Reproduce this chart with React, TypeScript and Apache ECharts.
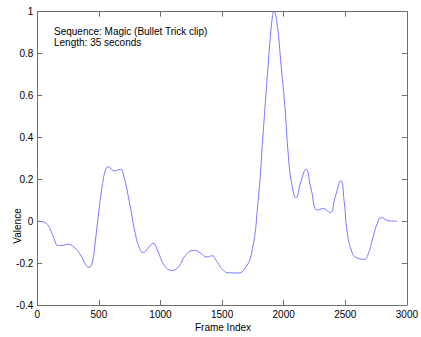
import React, { useEffect, useRef } from "react";
import * as echarts from "echarts";

const frameIndex = [
  0, 40, 80, 110, 140, 167, 200, 245, 300, 350, 390, 419, 445, 470, 500, 530, 555, 575, 625, 674, 700,
  747, 795, 830, 859, 900, 939, 980, 1030, 1095, 1150, 1200, 1270, 1320, 1377, 1417, 1460, 1510,
  1551, 1631, 1680, 1739, 1793, 1833, 1873, 1905, 1922, 1945, 1980, 2012, 2034, 2065, 2101, 2140,
  2182, 2220, 2276, 2322, 2375, 2420, 2464, 2490, 2517, 2557, 2584, 2652, 2690, 2719, 2760, 2793,
  2853, 2920,
];
const valence = [
  0, -0.002, -0.015, -0.045, -0.09, -0.116, -0.116, -0.11, -0.125, -0.16, -0.205, -0.22, -0.2, -0.1,
  0.05, 0.18, 0.245, 0.26, 0.24, 0.248, 0.22, 0.093, -0.058, -0.13, -0.149, -0.128, -0.106, -0.145,
  -0.21, -0.235, -0.215, -0.165, -0.139, -0.15, -0.171, -0.165, -0.195, -0.235, -0.246, -0.247,
  -0.23, -0.153, 0.101, 0.42, 0.737, 0.96, 1.0, 0.95, 0.737, 0.53, 0.34, 0.18, 0.112, 0.19, 0.248,
  0.16, 0.053, 0.06, 0.041, 0.12, 0.193, 0.1, -0.058, -0.153, -0.172, -0.182, -0.15, -0.09, -0.01,
  0.017, 0.002, 0.0,
];
const annotationLines = ["Sequence: Magic (Bullet Trick clip)", "Length: 35 seconds"];
const xTitle = "Frame Index";
const yTitle = "Valence";

export default function App() {
  const ref = useRef<HTMLDivElement>(null);
  useEffect(() => {
    if (!ref.current) return;
    const chart = echarts.init(ref.current, null, { renderer: "svg" });
    const font = "'Liberation Sans', Arial, Helvetica, sans-serif";
    const axisColor = "#6e6e6e";
    const fmtY = (v: number) => String(Math.round(v * 10) / 10);
    const fmtX = (v: number) => String(Math.round(v));
    const line = { show: true, onZero: false, lineStyle: { color: axisColor, width: 1 } };
    const tick = { show: true, inside: true, length: 5, lineStyle: { color: axisColor } };
    chart.setOption({
      animation: false,
      backgroundColor: "#ffffff",
      textStyle: { fontFamily: font },
      grid: { left: 37.3, top: 11.7, right: 11, bottom: 32, containLabel: false },
      xAxis: [
        {
          type: "value",
          min: 0,
          max: 3000,
          interval: 500,
          position: "bottom",
          axisLine: line,
          axisTick: tick,
          axisLabel: { color: "#000", fontSize: 10, fontFamily: font, margin: 4, formatter: fmtX },
          splitLine: { show: false },
        },
        {
          type: "value",
          min: 0,
          max: 3000,
          interval: 500,
          position: "top",
          axisLine: line,
          axisTick: tick,
          axisLabel: { show: false },
          splitLine: { show: false },
        },
      ],
      yAxis: [
        {
          type: "value",
          min: -0.4,
          max: 1,
          interval: 0.2,
          position: "left",
          axisLine: line,
          axisTick: tick,
          axisLabel: { color: "#000", fontSize: 10, fontFamily: font, margin: 4, formatter: fmtY },
          splitLine: { show: false },
        },
        {
          type: "value",
          min: -0.4,
          max: 1,
          interval: 0.2,
          position: "right",
          axisLine: line,
          axisTick: tick,
          axisLabel: { show: false },
          splitLine: { show: false },
        },
      ],
      series: [
        {
          type: "line",
          data: frameIndex.map((x, i) => [x, valence[i]]),
          smooth: 0.5,
          showSymbol: false,
          lineStyle: { color: "#7878ff", width: 1 },
          xAxisIndex: 0,
          yAxisIndex: 0,
        },
      ],
      graphic: [
        {
          type: "text",
          left: 54,
          top: 26,
          style: {
            text: annotationLines.join("\n"),
            fontSize: 10,
            lineHeight: 11,
            fontFamily: font,
            fill: "#000",
          },
        },
        {
          type: "text",
          x: 223,
          y: 327,
          style: {
            text: xTitle,
            fontSize: 10,
            fontFamily: font,
            fill: "#000",
            align: "center",
            verticalAlign: "middle",
          },
        },
        {
          type: "text",
          x: 17,
          y: 226,
          rotation: Math.PI / 2,
          style: {
            text: yTitle,
            fontSize: 10,
            fontFamily: font,
            fill: "#000",
            align: "center",
            verticalAlign: "middle",
          },
        },
      ],
    });
    return () => chart.dispose();
  }, []);
  return (
    <div
      ref={ref}
      style={{ position: "fixed", left: 0, top: 0, width: 421, height: 337 }}
    />
  );
}
